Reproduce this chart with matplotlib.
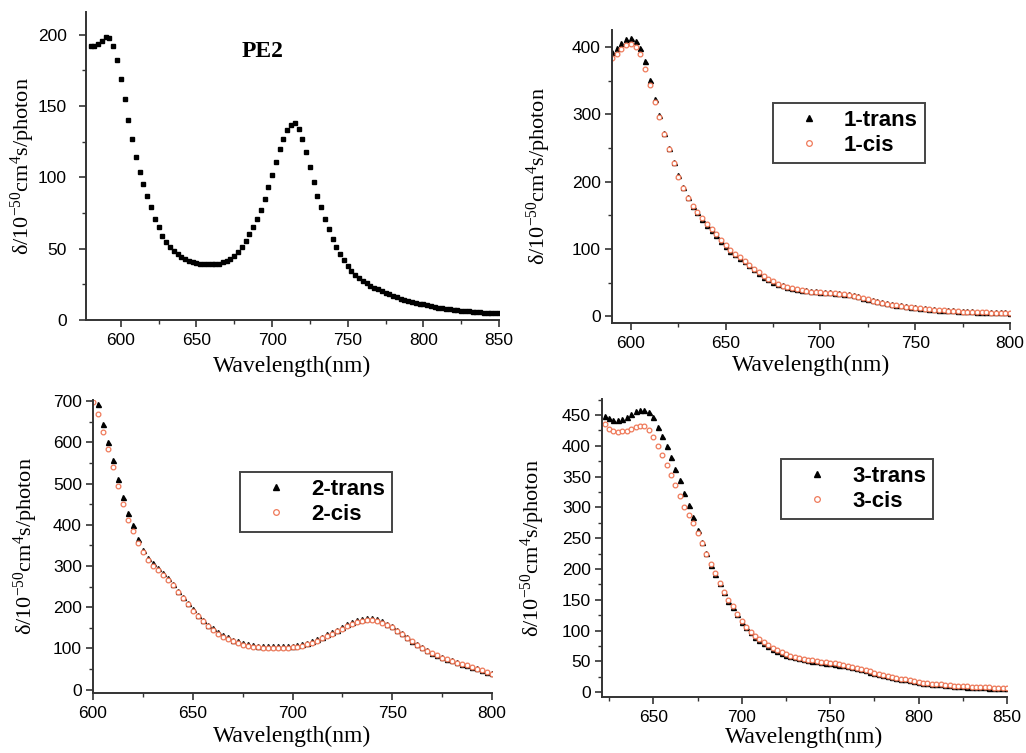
import matplotlib
matplotlib.use("Agg")
import matplotlib.pyplot as plt
from matplotlib.ticker import MultipleLocator
import numpy as np

plt.rcParams['font.family'] = ['Liberation Sans', 'DejaVu Sans']
plt.rcParams['mathtext.fontset'] = 'custom'
plt.rcParams['mathtext.rm'] = 'Liberation Serif'
plt.rcParams['mathtext.it'] = 'Liberation Serif:italic'
plt.rcParams['mathtext.bf'] = 'Liberation Serif:bold'

# ---- panel 1: PE2 ----
wl_pe2 = [580, 582.5, 585, 587.5, 590, 592.5, 595, 597.5, 600, 602.5,
          605, 607.5, 610, 612.5, 615, 617.5, 620, 622.5, 625, 627.5,
          630, 632.5, 635, 637.5, 640, 642.5, 645, 647.5, 650, 652.5,
          655, 657.5, 660, 662.5, 665, 667.5, 670, 672.5, 675, 677.5,
          680, 682.5, 685, 687.5, 690, 692.5, 695, 697.5, 700, 702.5,
          705, 707.5, 710, 712.5, 715, 717.5, 720, 722.5, 725, 727.5,
          730, 732.5, 735, 737.5, 740, 742.5, 745, 747.5, 750, 752.5,
          755, 757.5, 760, 762.5, 765, 767.5, 770, 772.5, 775, 777.5,
          780, 782.5, 785, 787.5, 790, 792.5, 795, 797.5, 800, 802.5,
          805, 807.5, 810, 812.5, 815, 817.5, 820, 822.5, 825, 827.5,
          830, 832.5, 835, 837.5, 840, 842.5, 845, 847.5, 850]
pe2 = [192, 192, 193.5, 196, 198.5, 198, 192, 182, 169, 155,
       140, 127, 114.5, 104, 95.5, 87, 79, 71, 65, 59,
       55, 51, 48.5, 46, 44, 42.5, 41.5, 40.5, 40, 39.5,
       39, 39, 39, 39, 39.5, 40.5, 41.5, 43, 45, 47.5,
       51, 55.5, 60, 65, 71, 77, 85, 93, 102, 111,
       120, 127, 133, 137, 138, 134, 127, 118, 107, 97,
       87, 79, 71, 64, 57, 51, 46, 42, 38, 34.5,
       31.5, 29.5, 27.5, 25.7, 24, 22.5, 21.5, 20.3, 19.2, 18,
       17, 16, 15, 14.2, 13.4, 12.7, 12, 11.5, 10.9, 10.3,
       9.7, 9.2, 8.7, 8.3, 7.9, 7.5, 7.2, 6.9, 6.6, 6.4,
       6.1, 5.9, 5.6, 5.4, 5.2, 5.1, 4.9, 4.8, 4.7]

# ---- panel 2: compound 1 ----
wl_1 = [590, 592.5, 595, 597.5, 600, 602.5, 605, 607.5, 610, 612.5,
        615, 617.5, 620, 622.5, 625, 627.5, 630, 632.5, 635, 637.5,
        640, 642.5, 645, 647.5, 650, 652.5, 655, 657.5, 660, 662.5,
        665, 667.5, 670, 672.5, 675, 677.5, 680, 682.5, 685, 687.5,
        690, 692.5, 695, 697.5, 700, 702.5, 705, 707.5, 710, 712.5,
        715, 717.5, 720, 722.5, 725, 727.5, 730, 732.5, 735, 737.5,
        740, 742.5, 745, 747.5, 750, 752.5, 755, 757.5, 760, 762.5,
        765, 767.5, 770, 772.5, 775, 777.5, 780, 782.5, 785, 787.5,
        790, 792.5, 795, 797.5, 800]
trans_1 = [393, 399, 406, 411, 413, 409, 398, 379, 351, 322,
           299, 272, 250, 229, 209, 192, 177, 164, 154.5, 145,
           135.5, 127.5, 120, 112, 105, 97, 92, 87, 82, 76,
           70, 64, 58.5, 55, 51.5, 48.5, 46, 44, 42.5, 41,
           39.5, 38.5, 37.5, 37, 36.5, 36, 35.5, 35, 34.5, 33.5,
           32.5, 31, 29.5, 27.5, 26, 24, 22.5, 21, 19.5, 18.2,
           17, 16, 15, 14, 13.2, 12.5, 11.8, 11.2, 10.6, 10,
           9.5, 9, 8.6, 8.2, 7.8, 7.5, 7.2, 6.9, 6.6, 6.4,
           6.2, 6, 5.8, 5.6, 5.5]
cis_1 = [383, 389, 397, 402.5, 404, 400, 389, 367, 343, 318,
         296, 270, 248, 227, 207, 191, 176, 164, 154.5, 145.5,
         136.5, 129, 121.5, 113.5, 106.5, 99, 93, 88, 82.5, 76.5,
         70.5, 65, 59.5, 55.5, 52, 48.5, 45.5, 43.5, 41.5, 40,
         38.5, 37.5, 36.5, 36, 35.5, 35, 34.5, 34, 33.5, 32.5,
         31.5, 30, 28.5, 26.5, 25, 23, 21.5, 20, 18.5, 17.3,
         16, 15, 14, 13.1, 12.3, 11.6, 10.9, 10.3, 9.7, 9.2,
         8.7, 8.2, 7.8, 7.4, 7, 6.7, 6.4, 6.1, 5.8, 5.6,
         5.4, 5.2, 5, 4.8, 4.6]

# ---- panel 3: compound 2 ----
wl_2 = [600, 602.5, 605, 607.5, 610, 612.5, 615, 617.5, 620, 622.5,
        625, 627.5, 630, 632.5, 635, 637.5, 640, 642.5, 645, 647.5,
        650, 652.5, 655, 657.5, 660, 662.5, 665, 667.5, 670, 672.5,
        675, 677.5, 680, 682.5, 685, 687.5, 690, 692.5, 695, 697.5,
        700, 702.5, 705, 707.5, 710, 712.5, 715, 717.5, 720, 722.5,
        725, 727.5, 730, 732.5, 735, 737.5, 740, 742.5, 745, 747.5,
        750, 752.5, 755, 757.5, 760, 762.5, 765, 767.5, 770, 772.5,
        775, 777.5, 780, 782.5, 785, 787.5, 790, 792.5, 795, 797.5,
        800]
trans_2 = [np.nan, 694, 644, 602, 558, 512, 468, 430, 400, 365,
           340, 320, 307, 295, 282.5, 270.5, 257, 240, 226, 211,
           196, 182, 170, 158, 150, 140, 133, 127, 121.5, 117,
           113, 110, 108, 107, 106, 105.5, 105, 105, 105, 105.5,
           106.5, 108, 110.5, 114, 118, 123, 128.5, 134, 140, 146,
           152.5, 158.5, 164, 168.5, 172, 174.5, 175, 172.5, 167, 160,
           154, 146, 137, 128, 119, 111, 103, 96, 89, 84,
           79, 75, 71, 67, 63.5, 60, 56, 52, 48, 44,
           41]
cis_2 = [697, 668, 625, 585, 540, 495, 450, 412, 385, 355,
         333, 314, 301, 290, 278, 266, 253, 237, 222, 207,
         192, 178, 166, 155, 146, 136, 129, 123, 117.5, 113,
         109, 106, 104, 102.5, 101.5, 101, 100.5, 100.5, 101, 101.5,
         102.5, 104, 106.5, 110, 114, 119, 124.5, 130, 136, 142,
         148, 154, 159, 163.5, 167, 169, 169, 167, 163, 157,
         151, 143, 134, 125.5, 117, 109, 101.5, 94.5, 88, 83,
         78, 74, 70, 66, 62.5, 59, 55, 51, 47, 43,
         39]

# ---- panel 4: compound 3 ----
wl_3 = [622.5, 625, 627.5, 630, 632.5, 635, 637.5, 640, 642.5, 645,
        647.5, 650, 652.5, 655, 657.5, 660, 662.5, 665, 667.5, 670,
        672.5, 675, 677.5, 680, 682.5, 685, 687.5, 690, 692.5, 695,
        697.5, 700, 702.5, 705, 707.5, 710, 712.5, 715, 717.5, 720,
        722.5, 725, 727.5, 730, 732.5, 735, 737.5, 740, 742.5, 745,
        747.5, 750, 752.5, 755, 757.5, 760, 762.5, 765, 767.5, 770,
        772.5, 775, 777.5, 780, 782.5, 785, 787.5, 790, 792.5, 795,
        797.5, 800, 802.5, 805, 807.5, 810, 812.5, 815, 817.5, 820,
        822.5, 825, 827.5, 830, 832.5, 835, 837.5, 840, 842.5, 845,
        847.5, 850]
trans_3 = [449, 445, 442.5, 442, 444, 447, 451.5, 456, 458.5, 458.5,
           455, 446, 431, 416, 400, 381, 362, 344, 324, 304.5,
           284, 264, 244, 226, 207, 192, 176.5, 162, 148.5, 138,
           126, 114, 105, 97, 90, 84.5, 80, 75, 70.5, 67,
           63.5, 61, 58.5, 56.5, 55, 53.5, 52, 51, 50, 49,
           48, 47, 46, 44.5, 43.2, 42, 40.5, 39, 37.5, 35.5,
           33, 31, 29, 27.5, 26, 24.8, 23.5, 22, 20.5, 19,
           18, 17, 15.5, 14.5, 13.7, 13, 12.4, 11.8, 11.2, 10.5,
           9.9, 9.3, 8.9, 8.5, 8.2, 7.9, 7.6, 7.3, 7.1, 6.9,
           6.7, 6.5]
cis_3 = [436, 428, 424.5, 423, 423.5, 424.5, 427, 430, 432, 432,
         426, 415, 400, 385, 368, 352, 336, 318, 300, 287,
         274, 259, 242, 225, 208, 193, 177.5, 163, 149.5, 139,
         127, 115, 106, 98, 91, 85.5, 81, 76, 71.5, 68,
         64.5, 61.5, 59, 57, 55.5, 54, 52.5, 51.5, 50.5, 49.5,
         48.5, 47.5, 46.5, 45, 43.5, 42.5, 41, 39.5, 38, 36,
         33.5, 31.5, 29.5, 28, 26.5, 25, 23.5, 22, 20.5, 19,
         18, 16.8, 15.5, 14.5, 13.7, 13, 12.4, 11.8, 11.2, 10.6,
         10, 9.5, 9.1, 8.7, 8.4, 8.1, 7.8, 7.5, 7.3, 7.1,
         6.9, 6.7]

W, H = 1026, 753
fig = plt.figure(figsize=(W / 100, H / 100), dpi=100)


def px_axes(left, top, right, bottom):
    return fig.add_axes([left / W, 1 - bottom / H, (right - left) / W, (bottom - top) / H])


ylab = 'δ/10$^{-50}$cm$^{4}$s/photon'
orange = '#ef7a5a'


def style(ax, xmaj, ymaj, xlab_y, ylab_x, ypad=3):
    for s in ['top', 'right']:
        ax.spines[s].set_visible(False)
    for s in ['left', 'bottom']:
        ax.spines[s].set_color('#333333')
        ax.spines[s].set_linewidth(1.4)
    ax.xaxis.set_major_locator(MultipleLocator(xmaj))
    ax.xaxis.set_minor_locator(MultipleLocator(xmaj / 2))
    ax.yaxis.set_major_locator(MultipleLocator(ymaj))
    ax.yaxis.set_minor_locator(MultipleLocator(ymaj / 2))
    ax.tick_params(which='major', length=5, width=1.2, color='#333333', labelsize=12.5)
    ax.tick_params(which='minor', length=3, width=1.0, color='#333333')
    ax.tick_params(axis='y', which='major', pad=ypad)
    ax.tick_params(axis='x', which='major', pad=4)
    ax.set_xlabel('Wavelength(nm)', family='Liberation Serif', fontsize=17)
    ax.set_ylabel(ylab, family='Liberation Serif', fontsize=16)
    # xlabel anchored at its top, ylabel at its right edge
    ax.xaxis.set_label_coords(0.5, xlab_y)
    ax.yaxis.set_label_coords(ylab_x, 0.5)


def pair(ax, x, t, c, lt, lc, lx, ly):
    ax.plot(x, t, ls='none', marker='^', ms=3.6, color='black', label=lt)
    ax.plot(x, c, ls='none', marker='o', ms=3.4, mfc='white', mec=orange, mew=0.9, label=lc)
    ax.legend(loc='upper left', bbox_to_anchor=(lx / W, 1 - ly / H),
              bbox_transform=fig.transFigure, borderaxespad=0,
              prop={'family': 'Liberation Sans', 'weight': 'bold', 'size': 16},
              fancybox=False, framealpha=1, edgecolor='#444444',
              borderpad=0.3, handlelength=2.6, handletextpad=0.3,
              labelspacing=0.2, markerscale=1.2, numpoints=1)
    ax.get_legend().get_frame().set_linewidth(1.4)


# panel 1
ax1 = px_axes(86, 12, 499, 320)
ax1.plot(wl_pe2, pe2, ls='none', marker='s', ms=3.5, color='black')
ax1.set_xlim(577, 850)
ax1.set_ylim(0, 216)
style(ax1, 50, 50, -0.115, -0.119, ypad=9)
ax1.text(694, 188, 'PE2', family='Liberation Serif', fontsize=17, fontweight='bold',
         ha='center', va='center')

# panel 2
ax2 = px_axes(612, 30, 1010, 323)
pair(ax2, wl_1, trans_1, cis_1, '1-trans', '1-cis', 773, 103)
ax2.set_xlim(590, 800)
ax2.set_ylim(-10, 425)
style(ax2, 50, 100, -0.107, -0.147)

# panel 3
ax3 = px_axes(93, 400, 492, 693)
pair(ax3, wl_2, trans_2, cis_2, '2-trans', '2-cis', 240, 472)
ax3.set_xlim(600, 800)
ax3.set_ylim(-8, 703)
style(ax3, 50, 100, -0.112, -0.132)

# panel 4
ax4 = px_axes(602, 399, 1007, 697)
pair(ax4, wl_3, trans_3, cis_3, '3-trans', '3-cis', 781, 459)
ax4.set_xlim(621, 850)
ax4.set_ylim(-8, 476)
style(ax4, 50, 50, -0.1, -0.135)

fig.savefig('out.png', dpi=100)
